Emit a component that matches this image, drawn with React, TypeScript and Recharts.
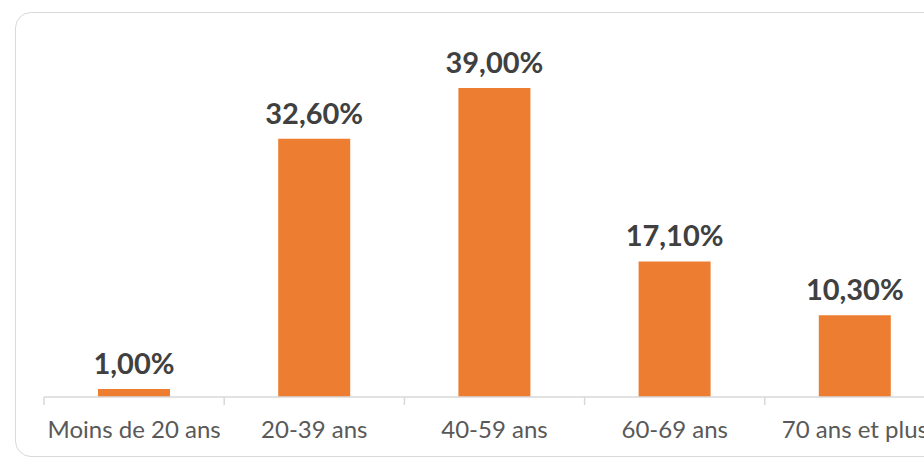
import * as React from "react";
import { Bar, BarChart, LabelList, XAxis, YAxis } from "recharts";

const categories = ["Moins de 20 ans", "20-39 ans", "40-59 ans", "60-69 ans", "70 ans et plus"];
const shares = [1.0, 32.6, 39.0, 17.1, 10.3];

const data = categories.map((name, i) => ({ name, value: shares[i] }));

const ORANGE = "#ED7D31";
const AXIS = "#D9D9D9";
const FONT = "Lato, 'Open Sans', sans-serif";

const fmtPct = (v: unknown) => `${Number(v).toFixed(2).replace(".", ",")}%`;

// category label centred in the band, tick mark on the band's left edge (Excel style)
function BandTick(props: any) {
  const { x, y, payload } = props;
  const half = payload?.offset ?? 0;
  return (
    <g>
      <line x1={x - half} x2={x - half} y1={y - 24} y2={y - 16} stroke={AXIS} strokeWidth={1.5} />
      <text
        x={x}
        y={y}
        dy="0.71em"
        textAnchor="middle"
        fill="#595959"
        fontSize={24}
        fontFamily={FONT}
      >
        {payload.value}
      </text>
    </g>
  );
}

export default function App() {
  return (
    <div
      style={{
        position: "absolute",
        left: 0,
        top: 0,
        width: 924,
        height: 459,
        overflow: "hidden",
        background: "#fff",
        fontFamily: FONT,
      }}
    >
      <div
        style={{
          position: "absolute",
          left: 15,
          top: 12,
          width: 1000,
          height: 445,
          border: "1.5px solid #D9D9D9",
          borderRadius: 16,
          boxSizing: "border-box",
        }}
      />
      <div style={{ position: "absolute", left: 0, top: 0 }}>
        <BarChart
          width={1000}
          height={459}
          data={data}
          margin={{ top: 80, right: 55, left: 44, bottom: 22 }}
        >
          <XAxis
            dataKey="name"
            height={40}
            interval={0}
            stroke={AXIS}
            tickSize={8}
            tickMargin={16}
            tick={<BandTick />}
            tickLine={false}
            axisLine={{ stroke: AXIS, strokeWidth: 1.5 }}
          />
          <YAxis hide domain={[0, 40]} width={0} />
          <Bar dataKey="value" fill={ORANGE} barSize={72} isAnimationActive={false}>
            <LabelList
              dataKey="value"
              position="top"
              offset={15}
              formatter={fmtPct}
              fill="#404040"
              fontSize={29}
              fontWeight={700}
              fontFamily={FONT}
            />
          </Bar>
        </BarChart>
      </div>
    </div>
  );
}
